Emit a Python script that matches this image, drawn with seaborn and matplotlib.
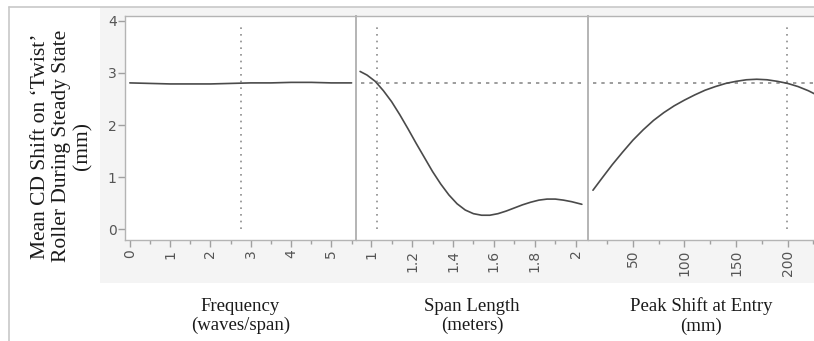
import matplotlib
matplotlib.use("Agg")
import matplotlib.pyplot as plt
import seaborn as sns
import pandas as pd
from matplotlib.ticker import MultipleLocator
from matplotlib.patches import Rectangle
from matplotlib.lines import Line2D

# ---- data ----
freq_x = [0, 0.5, 1, 1.5, 2, 2.5, 3, 3.5, 4, 4.5, 5, 5.5]
freq_y = [2.81, 2.80, 2.79, 2.79, 2.79, 2.80, 2.81, 2.81, 2.82, 2.82, 2.81, 2.81]

span_x = [0.946, 0.98, 1.02, 1.06, 1.10, 1.14, 1.18, 1.22, 1.26, 1.30, 1.34, 1.38, 1.42,
          1.46, 1.50, 1.54, 1.58, 1.62, 1.66, 1.70, 1.74, 1.78, 1.82, 1.86, 1.90, 1.94,
          1.98, 2.03]
span_y = [3.03, 2.96, 2.84, 2.66, 2.45, 2.20, 1.93, 1.65, 1.38, 1.11, 0.87, 0.66, 0.49,
          0.37, 0.30, 0.27, 0.27, 0.30, 0.35, 0.41, 0.47, 0.52, 0.56, 0.58, 0.58, 0.56,
          0.53, 0.48]

peak_x = [11.3, 20, 30, 40, 50, 60, 70, 80, 90, 100, 110, 120, 130, 140, 150, 160, 170,
          180, 190, 200, 210, 220, 226]
peak_y = [0.75, 0.98, 1.24, 1.48, 1.71, 1.91, 2.09, 2.24, 2.37, 2.48, 2.58, 2.67, 2.74,
          2.80, 2.84, 2.87, 2.88, 2.87, 2.84, 2.80, 2.74, 2.66, 2.60]

ref_y = 2.81
ref_x = [2.75, 1.03, 199]

xlabels = ["Frequency\n(waves/span)", "Span Length\n(meters)", "Peak Shift at Entry\n(mm)"]
ylabel = "Mean CD Shift on \u2018Twist\u2019\nRoller During Steady State\n(mm)"
yticks = [0, 1, 2, 3, 4]

# ---- styling ----
sns.set_style("white")
W, H = 814, 341
fig = plt.figure(figsize=(W / 100, H / 100), dpi=100)

def fx(px):
    return px / W

def fy(py):
    return 1 - py / H

# background grey band and outer frame
fig.patches.append(Rectangle((fx(100), fy(283)), fx(714), (283 - 7) / H,
                             transform=fig.transFigure, facecolor="#f4f4f4",
                             edgecolor="none", zorder=-5))
fig.lines.append(Line2D([fx(9), 1], [fy(6.5), fy(6.5)], transform=fig.transFigure,
                        color="#c8c8c8", lw=1.2, zorder=-4))
fig.lines.append(Line2D([fx(9), fx(9)], [fy(6.5), 0], transform=fig.transFigure,
                        color="#c8c8c8", lw=1.2, zorder=-4))

panels = [
    (125, 356, freq_x, freq_y, (-0.12, 5.61), 1, 0.5),
    (356, 588, span_x, span_y, (0.926, 2.06), 0.2, 0.1),
    (588, 814, peak_x, peak_y, (6.5, 225.5), 50, 25),
]
top, bottom = 16, 240
ylim = ((229.3 - bottom) / 52.1, (229.3 - top) / 52.1)

spine_c = "#b4b4b4"
tick_c = "#a0a0a0"
lab_c = "#555555"

for i, (l, r, xs, ys, xl, maj, mnr) in enumerate(panels):
    ax = fig.add_axes([fx(l), fy(bottom), fx(r - l), (bottom - top) / H])
    ax.set_facecolor("white")
    df = pd.DataFrame({"x": xs, "y": ys})
    sns.lineplot(data=df, x="x", y="y", ax=ax, color="#4a4a4a", lw=1.2, zorder=3)
    ax.set_xlim(*xl)
    ax.set_ylim(*ylim)
    # reference lines
    ax.axvline(ref_x[i], ymin=0.05, ymax=0.955, color="#8c8c8c", lw=1.2,
               ls=(0, (1, 3)), zorder=2)
    if i > 0:
        ax.axhline(ref_y, xmin=0.02, xmax=0.98 if i == 1 else 1.0, color="#8c8c8c",
                   lw=1.2, ls=(0, (2, 3)), zorder=2)
    ax.xaxis.set_major_locator(MultipleLocator(maj))
    ax.xaxis.set_minor_locator(MultipleLocator(mnr))
    ax.set_xlabel("")
    ax.set_ylabel("")
    for s in ["top", "bottom", "left", "right"]:
        ax.spines[s].set_color(spine_c)
        ax.spines[s].set_linewidth(1.0)
    ax.spines["right"].set_visible(False)
    if i > 0:
        ax.spines["left"].set_linewidth(1.4)
    ax.tick_params(axis="x", which="major", direction="out", length=5, width=1,
                   color=tick_c, labelcolor=lab_c, labelsize=10, labelrotation=90, pad=2,
                   bottom=True)
    ax.tick_params(axis="x", which="minor", direction="out", length=3, width=1,
                   color=tick_c, bottom=True)
    if i == 0:
        ax.set_yticks(yticks)
        ax.tick_params(axis="y", which="major", direction="out", length=5, width=1,
                       color=tick_c, labelcolor=lab_c, labelsize=10, pad=1, left=True)
    else:
        ax.set_yticks([])
    if i == 1:
        ax.xaxis.set_major_formatter(matplotlib.ticker.FuncFormatter(
            lambda v, p: ("%g" % round(v, 2))))
    cx = (l + r) / 2
    fig.text(fx(cx), fy(316), xlabels[i], ha="center", va="center",
             multialignment="center", fontsize=13.5, family="Liberation Serif",
             color="#1a1a1a", linespacing=1.2)

fig.text(fx(62), fy(146), ylabel, ha="center", va="center", rotation=90,
         multialignment="center", fontsize=15.5, family="Liberation Serif",
         color="#1a1a1a", linespacing=1.15)

fig.savefig("out.png", dpi=100)
